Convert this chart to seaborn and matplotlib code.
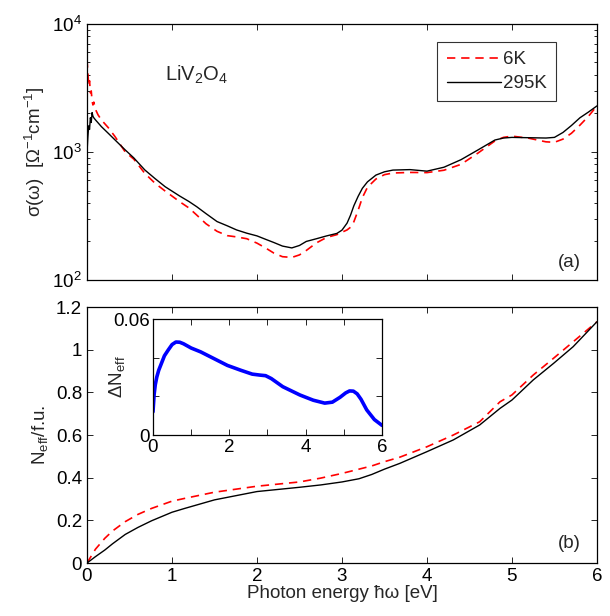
import numpy as np
import pandas as pd
import matplotlib
matplotlib.use("Agg")
import matplotlib.pyplot as plt
import seaborn as sns
from matplotlib.ticker import FixedLocator, FuncFormatter, LogLocator, NullFormatter

# ---------------- data ----------------
# Panel (a): optical conductivity, log scale
e_a = [0.0, 0.01, 0.02, 0.03, 0.04, 0.05, 0.06, 0.07, 0.08, 0.1, 0.13, 0.17, 0.25, 0.33, 0.45,
       0.55, 0.68, 0.8, 0.92, 1.09, 1.2, 1.29, 1.4, 1.53, 1.65, 1.76, 1.88, 2.0, 2.1,
       2.2, 2.3, 2.41, 2.5, 2.58, 2.7, 2.82, 2.94, 3.0, 3.06, 3.1, 3.14, 3.19, 3.24,
       3.3, 3.4, 3.5, 3.6, 3.8, 4.0, 4.2, 4.4, 4.6, 4.8, 4.9, 5.0, 5.2, 5.4, 5.5,
       5.6, 5.7, 5.8, 5.9, 6.0]
sigma_295K = [980, 1300, 1600, 1500, 1850, 1700, 2030, 1900, 1850, 1780, 1690, 1576, 1400, 1241, 1037,
              900, 724, 620, 535, 453, 410, 374, 330, 286, 265, 246, 232, 221, 208,
              196, 184, 178, 186, 200, 210, 221, 231, 245, 278, 320, 380, 450, 520,
              584, 660, 700, 722, 728, 708, 760, 870, 1037, 1240, 1285, 1300, 1292, 1285, 1300,
              1420, 1610, 1850, 2050, 2290]
sigma_6K = [5300, 4200, 3300, 3600, 2900, 3000, 2500, 2330, 2450, 2150, 1950, 1778, 1550, 1318, 1000,
            880, 681, 570, 495, 409, 365, 322, 275, 240, 222, 217, 210, 194, 178,
            162, 152, 150, 157, 170, 195, 215, 226, 236, 246, 258, 285, 350, 440,
            530, 615, 665, 685, 692, 690, 720, 800, 980, 1220, 1300, 1330, 1280, 1200, 1190,
            1260, 1400, 1620, 1900, 2290]

# Panel (b): effective number of carriers
e_b = [0.0, 0.1, 0.21, 0.3, 0.45, 0.6, 0.76, 1.0, 1.15, 1.5, 2.0, 2.5, 2.75, 3.0, 3.2,
       3.35, 3.5, 3.68, 4.0, 4.31, 4.62, 4.86, 5.0, 5.25, 5.49, 5.72, 6.0]
neff_295K = [0.0, 0.03, 0.061, 0.09, 0.134, 0.167, 0.198, 0.238, 0.256, 0.296, 0.335, 0.355,
             0.366, 0.38, 0.395, 0.415, 0.44, 0.467, 0.522, 0.577, 0.647, 0.725, 0.764,
             0.858, 0.936, 1.014, 1.131]
neff_6K = [0.0, 0.065, 0.116, 0.15, 0.194, 0.228, 0.256, 0.29, 0.303, 0.332, 0.36, 0.38,
           0.398, 0.42, 0.44, 0.455, 0.475, 0.496, 0.545, 0.600, 0.662, 0.756, 0.788,
           0.881, 0.96, 1.037, 1.131]

# Inset: difference Delta N_eff
e_in = [0.0, 0.03, 0.06, 0.1, 0.15, 0.2, 0.3, 0.4, 0.5, 0.6, 0.7, 0.8, 1.0, 1.25, 1.6,
        1.95, 2.3, 2.6, 2.8, 2.95, 3.1, 3.4, 3.85, 4.2, 4.5, 4.7, 4.9, 5.05, 5.15, 5.25,
        5.35, 5.45, 5.6, 5.8, 6.0]
dneff = [0.012, 0.021, 0.026, 0.030, 0.0335, 0.036, 0.041, 0.044, 0.0468, 0.0481, 0.048,
         0.0472, 0.045, 0.043, 0.0395, 0.036, 0.0335, 0.0315, 0.031, 0.0307, 0.0292, 0.025,
         0.0207, 0.018, 0.0165, 0.017, 0.0195, 0.0218, 0.0228, 0.0227, 0.0213, 0.0185,
         0.013, 0.008, 0.005]

labels = ["6K", "295K"]

# ---------------- style ----------------
FS = 13.5
sns.set_theme(style="ticks")
plt.rcParams["font.family"] = ["Liberation Sans", "DejaVu Sans"]
plt.rcParams.update({
    "mathtext.fontset": "custom",
    "mathtext.rm": "Liberation Sans",
    "mathtext.it": "Liberation Sans:italic",
    "mathtext.bf": "Liberation Sans:bold",
    "font.size": FS,
    "axes.labelsize": FS,
    "xtick.labelsize": FS,
    "ytick.labelsize": FS,
    "xtick.direction": "in",
    "ytick.direction": "in",
    "xtick.top": True,
    "ytick.right": True,
    "axes.linewidth": 0.9,
    "axes.edgecolor": "black",
    "xtick.color": "black",
    "ytick.color": "black",
    "xtick.major.size": 4,
    "ytick.major.size": 4,
    "xtick.minor.size": 2.5,
    "ytick.minor.size": 2.5,
    "xtick.major.width": 0.6,
    "ytick.major.width": 0.6,
    "ytick.minor.width": 0.6,
})

fig = plt.figure(figsize=(6.1, 6.16), dpi=100)
ax1 = fig.add_axes([0.1426, 0.5455, 0.836, 0.4156])
ax2 = fig.add_axes([0.1426, 0.086, 0.836, 0.4156])
ax3 = fig.add_axes([0.2508, 0.2938, 0.3754, 0.1883])

df_a = pd.DataFrame({"E": e_a, "s6": sigma_6K, "s295": sigma_295K})
df_b = pd.DataFrame({"E": e_b, "n6": neff_6K, "n295": neff_295K})
df_in = pd.DataFrame({"E": e_in, "d": dneff})

# ---- panel (a)
sns.lineplot(data=df_a, x="E", y="s6", ax=ax1, color="red", lw=1.2,
             linestyle=(0, (5, 3.5)), label=labels[0])
sns.lineplot(data=df_a, x="E", y="s295", ax=ax1, color="black", lw=1.0,
             label=labels[1])
ax1.set_yscale("log")
ax1.set_ylim(100, 10000)
ax1.set_xlim(0, 6)
ax1.xaxis.set_major_locator(FixedLocator([0, 1, 2, 3, 4, 5, 6]))
ax1.set_xticklabels([])
ax1.yaxis.set_minor_locator(LogLocator(base=10, subs=np.arange(2, 10)))
ax1.yaxis.set_minor_formatter(NullFormatter())
ax1.set_xlabel("")
ax1.set_ylabel(r"σ(ω)  [Ω$^{-1}$cm$^{-1}$]")
ax1.text(0.153, 0.80, r"LiV$_2$O$_4$", transform=ax1.transAxes, fontsize=FS + 1,
         ha="left", va="center")
ax1.text(0.968, 0.035, "(a)", transform=ax1.transAxes, fontsize=FS,
         ha="right", va="bottom")
leg = ax1.legend(loc="upper right", bbox_to_anchor=(0.92, 0.93), frameon=True,
                 fancybox=False, edgecolor="black", fontsize=FS, handlelength=2.9,
                 handletextpad=0.1, borderpad=0.5, labelspacing=0.35, borderaxespad=0)
leg.get_frame().set_linewidth(0.8)

# ---- panel (b)
sns.lineplot(data=df_b, x="E", y="n6", ax=ax2, color="red", lw=1.2,
             linestyle=(0, (5, 3.5)), legend=False)
sns.lineplot(data=df_b, x="E", y="n295", ax=ax2, color="black", lw=1.0, legend=False)
ax2.set_xlim(0, 6)
ax2.set_ylim(0, 1.2)
ax2.xaxis.set_major_locator(FixedLocator([0, 1, 2, 3, 4, 5, 6]))
ax2.yaxis.set_major_locator(FixedLocator([0, 0.2, 0.4, 0.6, 0.8, 1.0, 1.2]))
ax2.yaxis.set_major_formatter(FuncFormatter(lambda v, p: f"{v:g}"))
ax2.set_xlabel("Photon energy ħω [eV]", labelpad=0)
ax2.set_ylabel(r"N$_{\rm eff}$/f.u.")
ax2.text(0.968, 0.043, "(b)", transform=ax2.transAxes, fontsize=FS,
         ha="right", va="bottom")

# ---- inset
sns.lineplot(data=df_in, x="E", y="d", ax=ax3, color="blue", lw=2.6, legend=False)
ax3.set_xlim(0, 6)
ax3.set_ylim(0, 0.06)
ax3.xaxis.set_major_locator(FixedLocator([0, 1, 2, 3, 4, 5, 6]))
ax3.xaxis.set_major_formatter(FuncFormatter(lambda v, p: f"{v:g}" if int(round(v)) % 2 == 0 else ""))
ax3.yaxis.set_major_locator(FixedLocator([0, 0.02, 0.04, 0.06]))
ax3.yaxis.set_major_formatter(FuncFormatter(lambda v, p: f"{v:g}" if abs(v - 0.06) < 1e-9 or abs(v) < 1e-9 else ""))
ax3.tick_params(axis="x", pad=3)
ax3.tick_params(axis="y", pad=2)
ax3.set_xlabel("")
ax3.set_ylabel(r"ΔN$_{\rm eff}$", labelpad=-10)

fig.savefig("out.png", dpi=100)
